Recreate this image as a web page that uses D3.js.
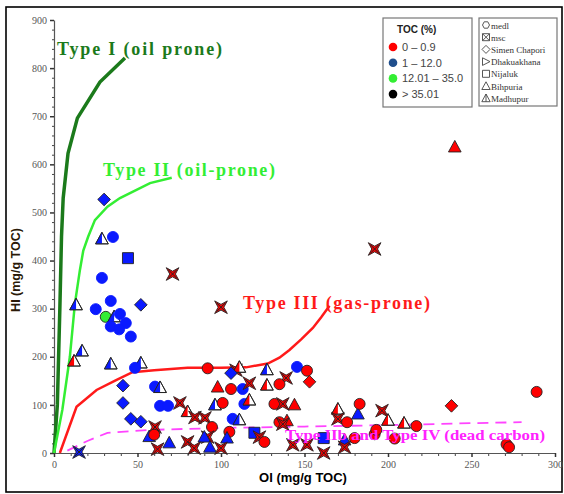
<!DOCTYPE html>
<html>
<head>
<meta charset="utf-8">
<script src="https://cdn.jsdelivr.net/npm/d3@7"></script>
<style>
  body { margin: 0; background: #fff; }
  svg { display: block; }
</style>
</head>
<body>
<svg id="chart" width="564" height="494"></svg>
<script>
// kerogen type curves (OI, HI)
const typeI = [[0, 0], [2, 100], [3.5, 300], [4.5, 450], [5.5, 530], [8.4, 623], [14, 696], [27.5, 771], [42.5, 821]];
const typeII = [[0, 0], [5, 90], [9.5, 200], [12.5, 310], [15.5, 380], [17.5, 420], [20.5, 450], [24.5, 484], [32, 512], [39.5, 530], [57.5, 561], [70.5, 572]];
const typeIII = [[3.5, 0], [13.5, 96], [25.5, 131], [37.5, 152], [47, 168], [60, 172], [80, 177], [100, 177], [115, 178], [128, 186], [135, 198], [141, 214], [148, 236], [155, 260], [160, 282], [165, 306]];
const typeIV = [[8, 5], [20, 25], [32, 42], [57, 48], [100, 52], [150, 55], [200, 58], [250, 62], [280, 64]];

// samples: OI, HI, marker (c circle, d diamond, s star, t triangle, h half triangle, q square), TOC class
const oi = [30, 28.7, 35.3, 44.3, 71, 28.7, 13.2, 34, 52, 25, 31, 36, 39.5, 43, 34, 39, 46, 16.8, 12, 34, 52, 48.5, 41.3, 60.5, 63.5, 41.3, 63.5, 68.3, 75.4, 46, 52, 60.5, 57, 60, 62, 69, 15, 100, 192, 240,
  80, 84.4, 90.4, 92, 109, 111, 106, 127.5, 145.5, 98, 106, 113, 117, 127.5, 139, 135, 96.4, 101, 114, 117, 132, 137, 144, 107, 111, 105, 94.6, 92, 90, 93.4, 80, 84, 103.6, 100, 120, 123, 126, 135, 139.5, 137, 143,
  151.5, 153, 170, 170, 175.5, 182, 183, 196.4, 200, 209.6, 217, 192, 193, 180, 151.5, 161.5, 161.5, 174, 174, 204, 238, 289, 271, 272.5];
const hi = [527, 445, 449, 405, 372, 364, 308, 316, 308, 299, 283, 283, 289, 270, 263, 257, 242, 212, 191, 185, 187, 177, 140, 138, 136, 104, 98, 98, 104, 71, 65, 54, 34, 38, 8, 21, 2, 303, 424, 636,
  86, 74, 73, 176, 172, 178, 166, 173, 179, 137, 133, 133, 145, 141, 156, 143, 100, 104, 102, 110, 102, 102, 100, 71, 69, 44, 54, 33, 33, 12, 23, 10, 31, 10, 42, 33, 23, 64, 67, 60, 17,
  171, 148, 91, 71, 64, 81, 102, 88, 68, 62, 56, 39, 48, 31, 17, 0, 31, 27, 12, 30, 98, 127, 18, 12];
const marker = ["d", "h", "c", "q", "s", "c", "h", "c", "d", "c", "c", "h", "c", "c", "c", "c", "c", "h", "h", "h", "h", "c", "d", "c", "h", "d", "c", "c", "s", "d", "d", "s", "t", "c", "s", "t", "s", "s", "s", "t",
  "h", "s", "s", "c", "s", "h", "d", "h", "c", "t", "c", "c", "s", "h", "s", "c", "h", "c", "c", "h", "c", "s", "t", "c", "h", "c", "c", "s", "t", "t", "s", "s", "t", "s", "q", "s", "c", "c", "t", "s", "s",
  "c", "d", "h", "s", "c", "t", "c", "s", "h", "h", "c", "c", "c", "c", "s", "s", "q", "t", "s", "c", "d", "c", "c", "c"];
const toc = ["b", "b", "b", "b", "r", "b", "b", "b", "b", "b", "g", "b", "b", "b", "b", "b", "b", "b", "r", "b", "b", "b", "b", "b", "b", "b", "b", "b", "r", "b", "b", "r", "b", "r", "r", "b", "b", "r", "r", "r",
  "r", "r", "r", "r", "r", "r", "b", "b", "b", "r", "r", "b", "r", "r", "r", "r", "b", "r", "b", "r", "r", "r", "r", "b", "b", "r", "r", "r", "b", "b", "r", "r", "b", "r", "b", "r", "r", "r", "r", "r", "r",
  "r", "r", "r", "r", "r", "b", "r", "r", "r", "r", "r", "r", "r", "r", "r", "r", "b", "b", "r", "r", "r", "r", "r", "r"];

const xTicks = [0, 50, 100, 150, 200, 250, 300];
const yTicks = [0, 100, 200, 300, 400, 500, 600, 700, 800, 900];
const tocLabels = ["0 \u2013 0.9", "1 \u2013 12.0", "12.01 \u2013 35.0", "> 35.01"];
const tocColors = ["#ff0000", "#1f4e8c", "#33ee33", "#000000"];
const wells = ["medl", "msc", "Simen Chapori", "Dhakuakhana", "Nijaluk", "Bihpuria", "Madhupur"];

const fillOf = { r: "#ff0000", b: "#0a1aff", g: "#33ee33", k: "#000" };

const svg = d3.select("#chart");
const x = d3.scaleLinear().domain([0, 300]).range([54, 555]);
const y = d3.scaleLinear().domain([0, 900]).range([453, 20]);

// outer frame
svg.append("rect").attr("x", 6).attr("y", 7).attr("width", 556).attr("height", 485)
  .attr("fill", "none").attr("stroke", "#000").attr("stroke-width", 1.6);

// axes
const minorY = d3.range(0, 901, 20).filter(v => v % 100);
const minorX = d3.range(0, 301, 10).filter(v => v % 50);
svg.append("g").attr("transform", "translate(54,0)")
  .call(d3.axisLeft(y).tickValues(minorY).tickSize(2).tickFormat(""))
  .call(g => g.select(".domain").remove())
  .selectAll("line").attr("stroke", "#444");
svg.append("g").attr("transform", "translate(0,453)")
  .call(d3.axisBottom(x).tickValues(minorX).tickSize(3).tickFormat(""))
  .call(g => g.select(".domain").remove())
  .selectAll("line").attr("stroke", "#444");

const yAxis = svg.append("g").attr("transform", "translate(54,0)")
  .call(d3.axisLeft(y).tickValues(yTicks).tickSize(4).tickSizeOuter(0).tickPadding(3));
const xAxis = svg.append("g").attr("transform", "translate(0,453)")
  .call(d3.axisBottom(x).tickValues(xTicks).tickSize(4).tickSizeOuter(0).tickPadding(4));
[yAxis, xAxis].forEach(g => {
  g.select(".domain").attr("stroke", "#555").attr("stroke-width", 1.2);
  g.selectAll(".tick line").attr("stroke", "#333").attr("stroke-width", 1.5);
  g.selectAll("text").attr("font-family", "Liberation Serif").attr("font-size", 10).attr("fill", "#555");
});

svg.append("text").attr("x", 303).attr("y", 482).attr("text-anchor", "middle")
  .attr("font-family", "Liberation Sans").attr("font-weight", "bold").attr("font-size", 13)
  .text("OI (mg/g TOC)");
svg.append("text").attr("transform", "translate(20,270) rotate(-90)").attr("text-anchor", "middle")
  .attr("font-family", "Liberation Sans").attr("font-weight", "bold").attr("font-size", 12.5)
  .attr("fill", "#2a1a08").text("HI (mg/g TOC)");

// type curves
const line = d3.line().x(d => x(d[0])).y(d => y(d[1]));
svg.append("path").attr("d", line(typeIV)).attr("fill", "none").attr("stroke", "#ff44ff")
  .attr("stroke-width", 1.8).attr("stroke-dasharray", "11,7");
svg.append("path").attr("d", line(typeI)).attr("fill", "none").attr("stroke", "#1b7a1b").attr("stroke-width", 3.5);
svg.append("path").attr("d", line(typeII)).attr("fill", "none").attr("stroke", "#33ee33").attr("stroke-width", 2.5);
svg.append("path").attr("d", line(typeIII)).attr("fill", "none").attr("stroke", "#ff1a1a").attr("stroke-width", 2.5);

// markers
function symbolPath(m, r) {
  if (m === "c") return d3.symbol(d3.symbolCircle, Math.PI * r * r)();
  if (m === "d") return `M0,${-r * 1.15}L${r * 1.15},0L0,${r * 1.15}L${-r * 1.15},0Z`;
  if (m === "q") return `M${-r},${-r}H${r}V${r}H${-r}Z`;
  if (m === "t" || m === "h") return `M0,${-r * 1.2}L${r * 1.15},${r * 0.9}L${-r * 1.15},${r * 0.9}Z`;
  const s = r * 1.15, k = s * 0.45;
  return `M${-s},${-s}L0,${-k}L${s},${-s}L${k},0L${s},${s}L0,${k}L${-s},${s}L${-k},0Z`;
}
const pts = oi.map((v, i) => ({ oi: v, hi: hi[i], m: marker[i], c: toc[i] }));
const r = 5.5;
const g = svg.append("g");
pts.forEach(p => {
  const node = g.append("g").attr("transform", `translate(${x(p.oi)},${y(p.hi)})`);
  const fill = fillOf[p.c];
  if (p.m === "h") {
    node.append("path").attr("d", symbolPath("t", r)).attr("fill", "#fff").attr("stroke", "#222").attr("stroke-width", 0.9);
    node.append("path").attr("d", `M0,${-r * 1.2}L0,${r * 0.9}L${-r * 1.15},${r * 0.9}Z`).attr("fill", fill);
    node.append("path").attr("d", symbolPath("t", r)).attr("fill", "none").attr("stroke", "#222").attr("stroke-width", 0.9);
  } else {
    node.append("path").attr("d", symbolPath(p.m, r)).attr("fill", fill)
      .attr("stroke", p.c === "b" && p.m === "c" ? "#0a1aff" : "#222").attr("stroke-width", 0.9);
    if (p.m === "s") {
      const a = r * 0.8;
      node.append("path").attr("d", `M${-a},${-a}L${a},${a}M${a},${-a}L${-a},${a}`)
        .attr("stroke", "#222").attr("stroke-width", 1);
    }
  }
});

// curve labels
const serif = "Liberation Serif";
svg.append("text").attr("x", 57).attr("y", 55).attr("font-family", serif).attr("font-weight", "bold")
  .attr("font-size", 18).attr("fill", "#1b7a1b").attr("textLength", 165).text("Type I (oil prone)");
svg.append("text").attr("x", 103).attr("y", 176).attr("font-family", serif).attr("font-weight", "bold")
  .attr("font-size", 18).attr("fill", "#33ee33").attr("textLength", 172).text("Type II (oil-prone)");
svg.append("text").attr("x", 243).attr("y", 309).attr("font-family", serif).attr("font-weight", "bold")
  .attr("font-size", 18).attr("fill", "#ff1a1a").attr("textLength", 187).text("Type III (gas-prone)");
svg.append("text").attr("x", 285).attr("y", 440).attr("font-family", serif).attr("font-weight", "bold")
  .attr("font-size", 15).attr("fill", "#ff22ff").attr("textLength", 260).attr("lengthAdjust", "spacingAndGlyphs")
  .text("Type IIb and Type IV (dead carbon)");

// TOC legend
const leg1 = svg.append("g");
leg1.append("rect").attr("x", 383).attr("y", 18).attr("width", 89).attr("height", 89)
  .attr("fill", "#fff").attr("stroke", "#777").attr("stroke-width", 1.2);
leg1.append("text").attr("x", 397).attr("y", 33).attr("font-family", "Liberation Sans").attr("font-weight", "bold")
  .attr("font-size", 10).attr("fill", "#222").text("TOC (%)");
tocLabels.forEach((t, i) => {
  const yy = 47 + i * 15.7;
  leg1.append("circle").attr("cx", 393).attr("cy", yy).attr("r", 4.3).attr("fill", tocColors[i]);
  leg1.append("text").attr("x", 402).attr("y", yy + 4).attr("font-family", "Liberation Sans")
    .attr("font-size", 11).attr("fill", "#444").text(t);
});

// well legend
const leg2 = svg.append("g");
leg2.append("rect").attr("x", 479).attr("y", 18).attr("width", 78).attr("height", 88)
  .attr("fill", "#fff").attr("stroke", "#777").attr("stroke-width", 1.2);
const wellSyms = [
  "M-3.5,0L-1.8,-3.2L1.8,-3.2L3.5,0L1.8,3.2L-1.8,3.2Z",
  "M-3.5,-3.5H3.5V3.5H-3.5ZM-3.5,-3.5L3.5,3.5M3.5,-3.5L-3.5,3.5",
  "M0,-4L4,0L0,4L-4,0Z",
  "M-3.5,-3.8L4,0L-3.5,3.8Z",
  "M-3.5,-3.5H3.5V3.5H-3.5Z",
  "M0,-4.2L4.2,3.5H-4.2Z",
  "M0,-4.2L4.2,3.5H-4.2ZM0,-4.2V3.5"
];
wells.forEach((w, i) => {
  const yy = 25 + i * 12.2;
  leg2.append("path").attr("transform", `translate(486,${yy})`).attr("d", wellSyms[i])
    .attr("fill", "none").attr("stroke", "#444").attr("stroke-width", 0.9);
  leg2.append("text").attr("x", 491).attr("y", yy + 3.5).attr("font-family", serif)
    .attr("font-size", 9).attr("fill", "#333").text(w);
});
</script>
</body>
</html>
